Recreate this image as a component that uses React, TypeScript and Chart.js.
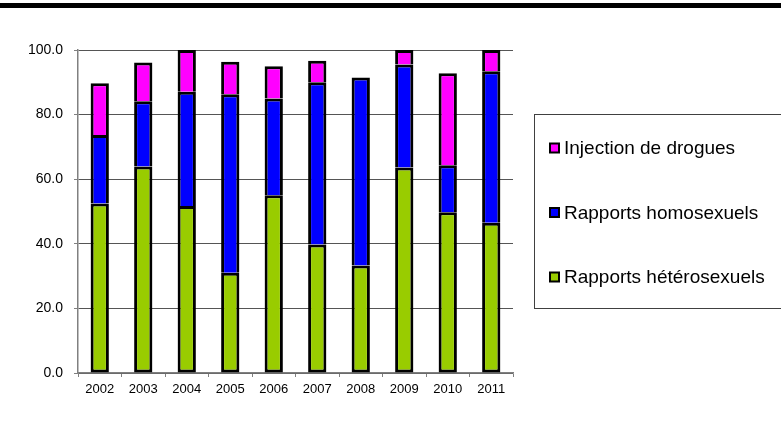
import React, { useEffect, useRef } from "react";
import { Chart, registerables } from "chart.js";

Chart.register(...registerables);

const years = ["2002", "2003", "2004", "2005", "2006", "2007", "2008", "2009", "2010", "2011"];
const heterosexuels = [52.5, 63.9, 51.7, 31.0, 55.0, 39.8, 33.3, 63.6, 49.8, 46.5];
const homosexuels = [21.2, 20.2, 35.4, 55.3, 30.0, 50.2, 58.2, 31.9, 14.5, 46.9];
const injection = [16.0, 12.0, 12.9, 10.1, 10.0, 6.7, null, 4.5, 28.5, 6.6];
const yTicks = [0, 20, 40, 60, 80, 100];

const FONT = "'Liberation Sans', Arial, sans-serif";

const boxLegend = {
  id: "boxLegend",
  afterDraw(chart: any) {
    const ctx = chart.ctx;
    ctx.save();
    ctx.strokeStyle = "#404040";
    ctx.lineWidth = 1;
    ctx.strokeRect(534.5, 114.5, 260, 194);
    const ds = [...chart.data.datasets].reverse();
    ds.forEach((d: any, i: number) => {
      const cy = 148 + i * 64.5;
      ctx.fillStyle = "#000";
      ctx.fillRect(549, cy - 5.5, 11, 11);
      ctx.fillStyle = d.backgroundColor;
      ctx.fillRect(551, cy - 3.5, 7, 7);
      ctx.fillStyle = "#000";
      ctx.font = `19px ${FONT}`;
      ctx.textBaseline = "middle";
      ctx.textAlign = "left";
      ctx.fillText(d.label, 564, cy + 1);
    });
    ctx.restore();
  },
};

export default function App() {
  const ref = useRef<HTMLCanvasElement>(null);
  useEffect(() => {
    const chart = new Chart(ref.current!, {
      type: "bar",
      data: {
        labels: years,
        datasets: [
          {
            label: "Rapports hétérosexuels",
            data: heterosexuels,
            backgroundColor: "#99CC00",
            borderColor: "#000",
            borderWidth: 3,
            borderSkipped: false,
          },
          {
            label: "Rapports homosexuels",
            data: homosexuels,
            backgroundColor: "#0000FF",
            borderColor: "#000",
            borderWidth: 3,
          },
          {
            label: "Injection de drogues",
            data: injection as any,
            backgroundColor: "#FF00FF",
            borderColor: "#000",
            borderWidth: 3,
          },
        ],
      },
      options: {
        responsive: false,
        animation: false,
        devicePixelRatio: 1,
        layout: { padding: { top: 50, left: 0, right: 268, bottom: 0 } },
        plugins: { legend: { display: false }, tooltip: { enabled: false } },
        datasets: { bar: { categoryPercentage: 1, barPercentage: 0.42 } },
        scales: {
          x: {
            stacked: true,
            afterFit: (s: any) => { s.height = 56; },
            grid: {
              offset: true,
              drawOnChartArea: false,
              tickLength: 4,
              tickColor: "#808080",
            },
            border: { color: "#808080", width: 1.5 },
            ticks: { color: "#000", font: { family: FONT, size: 13 }, padding: 5, maxRotation: 0 },
          },
          y: {
            stacked: true,
            min: 0,
            max: 100,
            afterFit: (s: any) => { s.width = 78; },
            afterBuildTicks: (s: any) => { s.ticks = yTicks.map((v) => ({ value: v })); },
            grid: {
              color: "#555",
              borderDash: [1, 1],
              tickLength: 4,
              tickColor: "#808080",
              tickBorderDash: [],
            },
            border: { color: "#808080", width: 1.5 },
            ticks: {
              color: "#000",
              font: { family: FONT, size: 14 },
              padding: 11,
              callback: (v: any) => Number(v).toFixed(1),
            },
          },
        },
      },
      plugins: [boxLegend],
    });
    return () => chart.destroy();
  }, []);
  return (
    <div style={{ position: "absolute", left: 0, top: 0, width: 781, height: 429, background: "#fff", overflow: "hidden" }}>
      <div style={{ position: "absolute", left: 0, top: 3, width: 781, height: 5, background: "#000" }} />
      <canvas ref={ref} width={781} height={429} style={{ position: "absolute", left: 0, top: 0 }} />
    </div>
  );
}
